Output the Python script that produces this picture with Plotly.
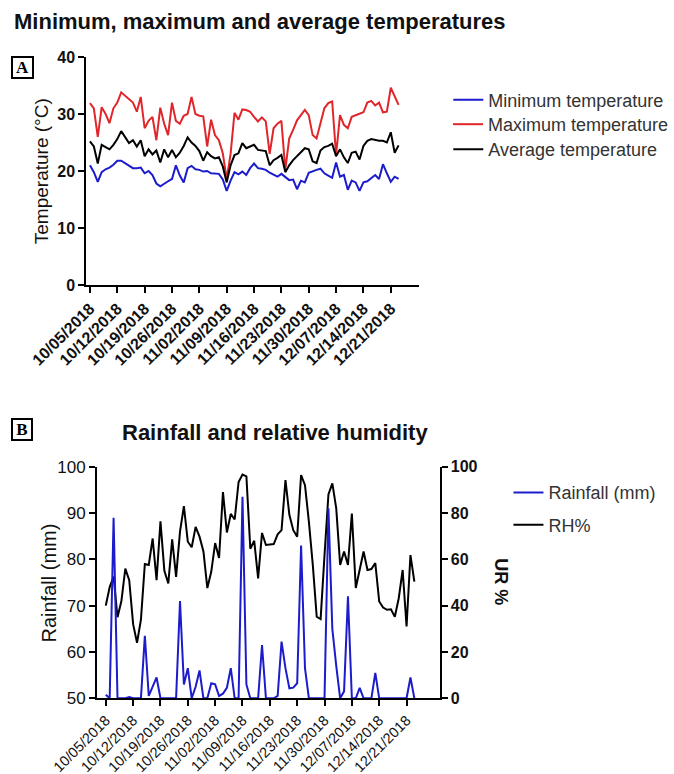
import pandas as pd
import plotly.graph_objects as go

# ---------------- data ----------------
start_date = "2018-10-05"
n_days = 80
tick_labels = ["10/05/2018", "10/12/2018", "10/19/2018", "10/26/2018", "11/02/2018", "11/09/2018",
               "11/16/2018", "11/23/2018", "11/30/2018", "12/07/2018", "12/14/2018", "12/21/2018"]

t_min = [21, 19.8, 18.1, 19.8, 20.3, 20.6, 21.1, 21.8, 21.8, 21.4,
         20.9, 20.5, 20.5, 20.6, 19.6, 20, 19.3, 17.8, 17.3, 17.8,
         18.2, 18.6, 21, 19.2, 18, 20.5, 20.9, 20.3, 20.2, 19.9,
         20, 19.6, 19.6, 19.5, 18.5, 16.5, 18.3, 19.8, 19.4, 19.9,
         19.3, 20.5, 21.3, 20.5, 20.4, 20.2, 19.7, 19.3, 19, 19.5,
         18.9, 18.4, 18.5, 16.8, 18.3, 18, 19.7, 20, 20.2, 20.4,
         19.6, 19.2, 18.8, 21.5, 19, 19.3, 16.7, 18.3, 18, 16.5,
         18, 18.2, 18.8, 19.3, 18.6, 21.2, 19.6, 18.1, 19, 18.6]

t_max = [31.9, 31, 26, 31.2, 30, 28.4, 31, 32, 33.8, 33.2,
         32.7, 32, 30.4, 33, 27.5, 28.8, 29.5, 25.4, 31.1, 28.3,
         26.3, 32, 28.8, 28.3, 29.7, 30, 33, 30, 29.7, 29.6,
         24.3, 29, 26.3, 25.4, 23.1, 18.6, 23, 30.2, 29, 30.8,
         30.7, 30.4, 29.5, 28.7, 29.4, 28.7, 23, 27.5, 28.3, 28.8,
         20.2, 25.7, 27.2, 28.9, 29.8, 30.7, 29.8, 26.3, 25.7, 28.5,
         31, 31.9, 32.2, 22.8, 29.8, 28.1, 27.5, 29.5, 29.8, 30,
         30.3, 32, 32.3, 31.5, 32, 30.3, 30.4, 34.6, 33, 31.6]

t_avg = [25.2, 24.3, 21.3, 24.6, 24.2, 23.8, 24.6, 25.6, 27, 26,
         24.9, 25.4, 24.3, 25.4, 22.6, 23.8, 22.9, 23.6, 21.5, 23.8,
         22.4, 23.7, 22.4, 23.2, 24.4, 25.9, 25, 24.4, 23.5, 21.8,
         23.3, 22.6, 22.2, 22.4, 20.8, 18, 21, 22.8, 23.1, 24.9,
         24, 24.3, 24.6, 23.7, 23.6, 23.5, 21, 21.9, 22.3, 22.8,
         19.8, 21, 21.9, 22.6, 23.3, 24, 23.8, 21.7, 21.4, 23.6,
         24.2, 24.4, 24.8, 22.6, 23.8, 22.4, 21.4, 23.2, 23.4, 22,
         24.4, 25.3, 25.6, 25.4, 25.3, 25.3, 25, 26.8, 23.2, 24.5]

rainfall_mm = [1.5, 0, 78, 0, 0, 0, 0.5, 0, 0, 0,
               27, 1, 5, 9, 0, 0, 0, 0, 0, 42,
               6, 13, 0, 5, 12, 0, 0, 6.5, 6, 1,
               2, 4.5, 13, 0, 0, 87, 6, 0, 0, 0,
               23, 0, 0, 0, 1, 24.5, 13, 4.3, 4.6, 6.5,
               66, 13, 0, 0, 0, 0, 0, 82, 30, 14,
               0, 3, 44, 0, 0, 4.5, 0, 0, 0, 11,
               0, 0, 0, 0, 0, 0, 0, 0, 9, 0]

rh_pct = [70, 74, 76.3, 67.5, 71, 78, 75.5, 66, 62, 67,
          79, 78.8, 84.5, 75.5, 88.2, 77.5, 74.8, 84.3, 76.2, 86,
          91.5, 83.8, 82.6, 87, 84.9, 81.7, 73.8, 77.3, 83.5, 80.3,
          94.5, 85.8, 89.8, 88.6, 96.7, 98.3, 97.9, 82.3, 84, 75.9,
          85.7, 83.1, 83.2, 83.3, 85.4, 86.3, 97.1, 89.6, 86.3, 84.9,
          98.2, 96, 88.1, 78.8, 67.6, 67.1, 80.9, 94, 96.4, 91,
          78.8, 81.7, 78.8, 89.9, 73.8, 78.1, 81.7, 77.7, 77.9, 79.2,
          70.9, 69.6, 69.1, 69.2, 67.6, 71.6, 77.7, 65.5, 80.9, 75.2]

dates = pd.date_range(start_date, periods=n_days, freq="D")
tick_dates = pd.date_range(start_date, periods=len(tick_labels), freq="7D")

# ---------------- layout helpers ----------------
W, H = 674, 774
def px(x):
    return x / W
def py(y):
    return 1 - y / H

d0 = pd.Timestamp(start_date)
day = pd.Timedelta(days=1)
top_range = [str(d0 - 0.92 * day), str(d0 + 84.27 * day)]
bot_range = [str(d0 - 2.24 * day), str(d0 + 85.45 * day)]

FONT = "Liberation Sans, Arial, sans-serif"
BLUE = "#1c1ccc"
RED = "#e0262a"
BLACK = "#000000"

fig = go.Figure()
fig.add_trace(go.Scatter(x=dates, y=t_min, mode="lines", name="Minimum temperature",
                         line=dict(color=BLUE, width=2), xaxis="x", yaxis="y", legend="legend"))
fig.add_trace(go.Scatter(x=dates, y=t_max, mode="lines", name="Maximum temperature",
                         line=dict(color=RED, width=2), xaxis="x", yaxis="y", legend="legend3"))
fig.add_trace(go.Scatter(x=dates, y=t_avg, mode="lines", name="Average temperature",
                         line=dict(color=BLACK, width=2), xaxis="x", yaxis="y", legend="legend4"))
fig.add_trace(go.Scatter(x=dates, y=rainfall_mm, mode="lines", name="Rainfall (mm)",
                         line=dict(color=BLUE, width=2), xaxis="x2", yaxis="y3", legend="legend2"))
fig.add_trace(go.Scatter(x=dates, y=rh_pct, mode="lines", name="RH%",
                         line=dict(color=BLACK, width=2), xaxis="x2", yaxis="y2", legend="legend5"))

axis_common = dict(showline=True, linewidth=2, linecolor="black", ticks="outside",
                   ticklen=6, tickwidth=2, tickcolor="black", showgrid=False, zeroline=False,
                   automargin=False)

def leg(x, yc):
    return dict(x=px(x), y=py(yc), xanchor="left", yanchor="middle",
                font=dict(family=FONT, size=18, color="#333"),
                bgcolor="rgba(0,0,0,0)", itemwidth=30)

fig.update_layout(
    template="none",
    width=W, height=H, autosize=False,
    margin=dict(l=0, r=0, t=0, b=0, pad=0),
    paper_bgcolor="white", plot_bgcolor="white",
    font=dict(family=FONT, color="black"),
    xaxis=dict(domain=[px(89), px(432)], anchor="y", range=top_range,
               tickvals=list(tick_dates), ticktext=tick_labels, tickangle=-45,
               tickfont=dict(family=FONT, size=16, weight="bold", color="#111"),
               **axis_common),
    yaxis=dict(domain=[py(285), py(57)], anchor="x", range=[0, 40], dtick=10,
               tickfont=dict(family=FONT, size=16, weight="bold", color="#111"),
               **axis_common),
    xaxis2=dict(domain=[px(100), px(453)], anchor="y2", range=bot_range,
                tickvals=list(tick_dates), ticktext=tick_labels, tickangle=-45,
                tickfont=dict(family=FONT, size=14.5, color="#111"),
                **axis_common),
    yaxis2=dict(domain=[py(698.3), py(466.7)], anchor="x2", range=[50, 100], dtick=10,
                tickfont=dict(family=FONT, size=17, color="#111"),
                **axis_common),
    yaxis3=dict(domain=[py(698.3), py(466.7)], anchor="x2", overlaying="y2", side="right",
                range=[0, 100], dtick=20,
                tickfont=dict(family=FONT, size=16, weight="bold", color="#111"),
                **axis_common),
    legend=leg(462, 100),
    legend3=leg(462, 124.5),
    legend4=leg(462, 149.5),
    legend2=leg(524, 492.7),
    legend5=leg(524, 525),
    showlegend=True,
)

annotations = [
    dict(text="Minimum, maximum and average temperatures", x=px(12), y=py(21),
         xanchor="left", yanchor="middle", font=dict(family=FONT, size=22, weight="bold", color="#111")),
    dict(text="Rainfall and relative humidity", x=px(124), y=py(432),
         xanchor="left", yanchor="middle", font=dict(family=FONT, size=22, weight="bold", color="#111")),
    dict(text="Temperature (°C)", x=px(43.5), y=py(171), textangle=-90,
         xanchor="center", yanchor="middle", font=dict(family=FONT, size=19, color="#111")),
    dict(text="Rainfall (mm)", x=px(50), y=py(583), textangle=-90,
         xanchor="center", yanchor="middle", font=dict(family=FONT, size=20, color="#111")),
    dict(text="UR %", x=px(516), y=py(582), textangle=90,
         xanchor="center", yanchor="middle", font=dict(family=FONT, size=18, weight="bold", color="#111")),
    dict(text="A", x=px(23.5), y=py(67.5), xanchor="center", yanchor="middle",
         width=19, height=19, borderwidth=2, bordercolor="black", borderpad=0,
         font=dict(family="Liberation Serif, Times New Roman, serif", size=17, weight="bold", color="black")),
    dict(text="B", x=px(23), y=py(429.5), xanchor="center", yanchor="middle",
         width=18, height=19, borderwidth=2, bordercolor="black", borderpad=0,
         font=dict(family="Liberation Serif, Times New Roman, serif", size=17, weight="bold", color="black")),
]
for a in annotations:
    a.update(xref="paper", yref="paper", showarrow=False)
fig.update_layout(annotations=annotations)

fig.write_html("out.html")
